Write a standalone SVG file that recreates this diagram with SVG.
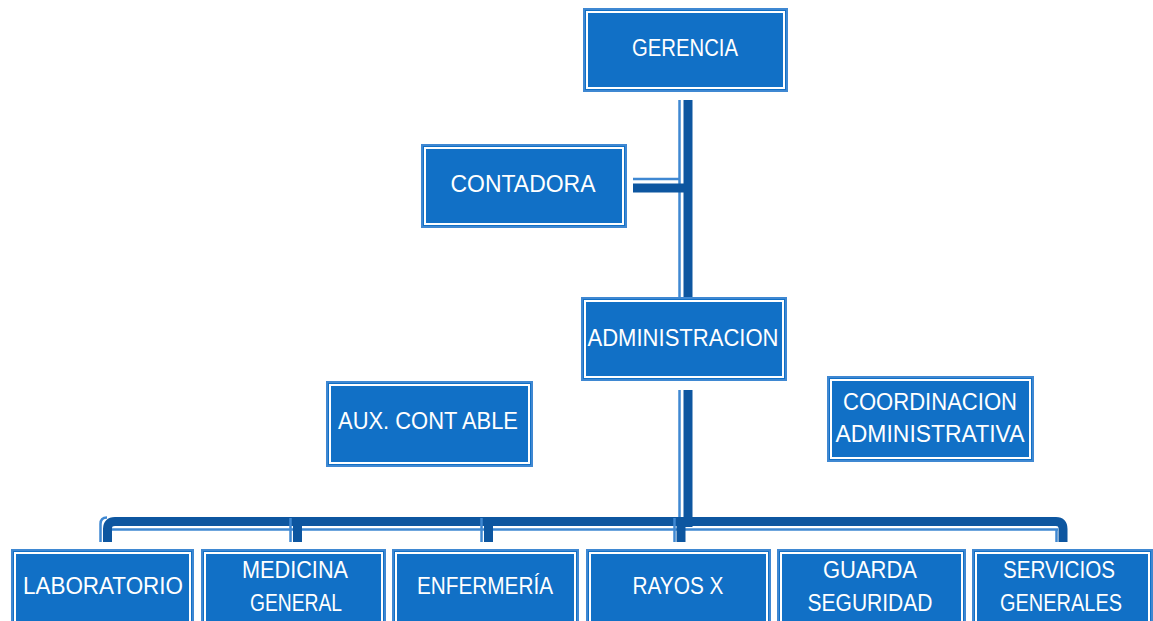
<svg xmlns="http://www.w3.org/2000/svg" width="1153" height="621" viewBox="0 0 1153 621">
<style>
.box{fill:#1170C6;stroke:#3F88D2;stroke-width:2}
.gap{fill:none;stroke:#ffffff;stroke-width:2}
.t{font-family:"Liberation Sans",Arial,sans-serif;font-size:23px;fill:#ffffff;text-anchor:middle}
.dk{fill:none;stroke:#0D56A0;stroke-width:9}
.lt{fill:none;stroke:#3F88D2;stroke-width:2.5}
</style>
<rect width="1153" height="621" fill="#ffffff"/>
<g id="connectors">
  <line class="lt" x1="679.5" y1="100" x2="679.5" y2="298"/>
  <line class="dk" x1="688" y1="100" x2="688" y2="298" stroke-width="10"/>
  <line class="lt" x1="633" y1="179" x2="679" y2="179"/>
  <line class="dk" x1="633" y1="188" x2="684" y2="188"/>
  <line class="lt" x1="679.5" y1="390" x2="679.5" y2="527"/>
  <line class="dk" x1="688" y1="390" x2="688" y2="527" stroke-width="10"/>
  <path class="dk" d="M107.5 542 V529 Q107.5 521.5 115 521.5 H1056 Q1063 521.5 1063 529 V542"/>
  <path class="lt" d="M100.5 542 V524 Q100.5 517.5 107 517.5"/>
  <line class="lt" x1="112" y1="529.5" x2="1058" y2="529.5"/>
  <line class="lt" x1="1056.5" y1="529.5" x2="1056.5" y2="542"/>
  <line class="lt" x1="290.5" y1="518" x2="290.5" y2="542"/>
  <line class="dk" x1="297.5" y1="522" x2="297.5" y2="542"/>
  <line class="lt" x1="481.5" y1="518" x2="481.5" y2="542"/>
  <line class="dk" x1="488.5" y1="522" x2="488.5" y2="542"/>
  <line class="lt" x1="674.5" y1="518" x2="674.5" y2="542"/>
  <line class="dk" x1="681" y1="522" x2="681" y2="542"/>
</g>
<g id="gerencia">
  <rect class="box" x="584" y="9" width="203" height="82"/>
  <rect class="gap" x="587" y="12" width="197" height="76"/>
  <text class="t" x="685" y="56" textLength="106" lengthAdjust="spacingAndGlyphs">GERENCIA</text>
</g>
<g id="contadora">
  <rect class="box" x="422" y="145" width="204" height="82"/>
  <rect class="gap" x="425" y="148" width="198" height="76"/>
  <text class="t" x="523" y="192" textLength="145" lengthAdjust="spacingAndGlyphs">CONTADORA</text>
</g>
<g id="administracion">
  <rect class="box" x="582" y="298" width="204" height="82"/>
  <rect class="gap" x="585" y="301" width="198" height="76"/>
  <text class="t" x="683" y="346" textLength="191" lengthAdjust="spacingAndGlyphs">ADMINISTRACION</text>
</g>
<g id="aux-contable">
  <rect class="box" x="327" y="382" width="205" height="84"/>
  <rect class="gap" x="330" y="385" width="199" height="78"/>
  <text class="t" x="428" y="429" textLength="180" lengthAdjust="spacingAndGlyphs">AUX. CONT ABLE</text>
</g>
<g id="coordinacion">
  <rect class="box" x="828" y="377" width="205" height="84"/>
  <rect class="gap" x="831" y="380" width="199" height="78"/>
  <text class="t" x="930" y="410" textLength="174" lengthAdjust="spacingAndGlyphs">COORDINACION</text>
  <text class="t" x="930" y="442" textLength="189" lengthAdjust="spacingAndGlyphs">ADMINISTRATIVA</text>
</g>
<g id="laboratorio">
  <rect class="box" x="12" y="550" width="181" height="90"/>
  <rect class="gap" x="15" y="553" width="175" height="84"/>
  <text class="t" x="103" y="594" textLength="160" lengthAdjust="spacingAndGlyphs">LABORATORIO</text>
</g>
<g id="medicina">
  <rect class="box" x="202" y="550" width="183" height="90"/>
  <rect class="gap" x="205" y="553" width="177" height="84"/>
  <text class="t" x="295" y="578" textLength="106" lengthAdjust="spacingAndGlyphs">MEDICINA</text>
  <text class="t" x="296" y="611" textLength="92" lengthAdjust="spacingAndGlyphs">GENERAL</text>
</g>
<g id="enfermeria">
  <rect class="box" x="393" y="550" width="185" height="90"/>
  <rect class="gap" x="396" y="553" width="179" height="84"/>
  <text class="t" x="485" y="594" textLength="136" lengthAdjust="spacingAndGlyphs">ENFERMERÍA</text>
</g>
<g id="rayos-x">
  <rect class="box" x="587" y="550" width="183" height="90"/>
  <rect class="gap" x="590" y="553" width="177" height="84"/>
  <text class="t" x="678" y="594" textLength="91" lengthAdjust="spacingAndGlyphs">RAYOS X</text>
</g>
<g id="guarda">
  <rect class="box" x="778" y="550" width="187" height="90"/>
  <rect class="gap" x="781" y="553" width="181" height="84"/>
  <text class="t" x="870" y="578" textLength="94" lengthAdjust="spacingAndGlyphs">GUARDA</text>
  <text class="t" x="870" y="611" textLength="125" lengthAdjust="spacingAndGlyphs">SEGURIDAD</text>
</g>
<g id="servicios">
  <rect class="box" x="973" y="550" width="179" height="90"/>
  <rect class="gap" x="976" y="553" width="173" height="84"/>
  <text class="t" x="1059" y="578" textLength="112" lengthAdjust="spacingAndGlyphs">SERVICIOS</text>
  <text class="t" x="1061" y="611" textLength="122" lengthAdjust="spacingAndGlyphs">GENERALES</text>
</g>
</svg>
